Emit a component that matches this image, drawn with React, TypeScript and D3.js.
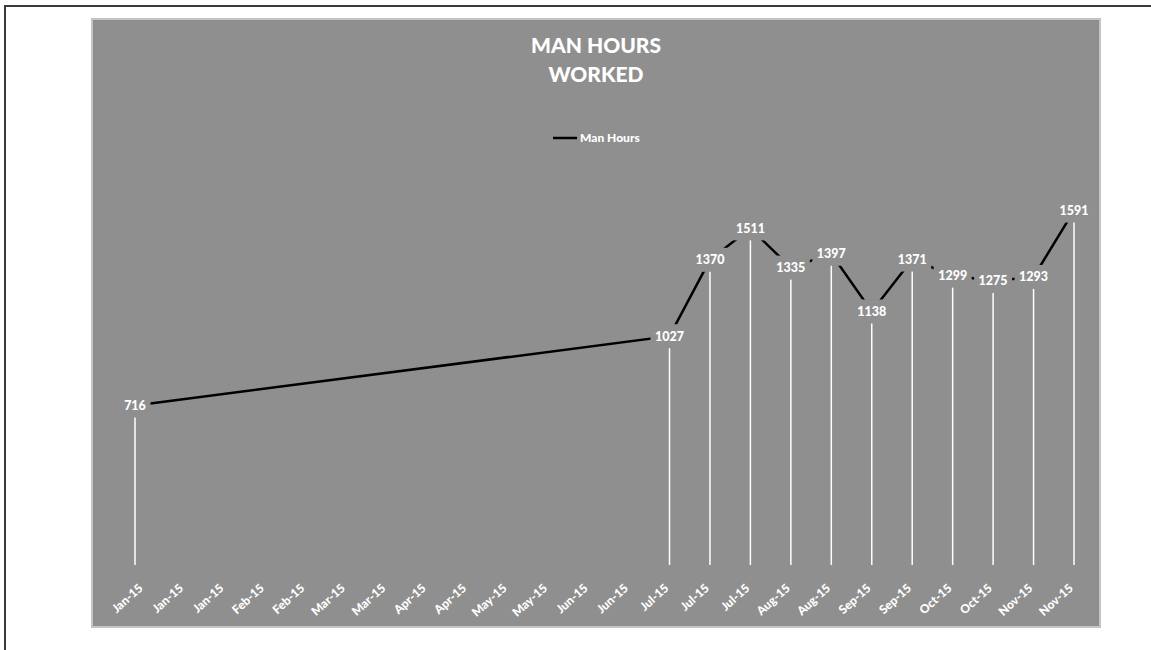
import React from "react";
import * as d3 from "d3";

const dates: string[] = [
  "2015-01-01", "2015-07-05", "2015-07-19", "2015-08-02", "2015-08-16", "2015-08-30",
  "2015-09-13", "2015-09-27", "2015-10-11", "2015-10-25", "2015-11-08", "2015-11-22",
];
const manHours: number[] = [716, 1027, 1370, 1511, 1335, 1397, 1138, 1371, 1299, 1275, 1293, 1591];
const axisStart = "2015-01-01";
const axisEnd = "2015-11-22";
const tickStepDays = 14;
const titleLines: string[] = ["MAN HOURS", "WORKED"];
const seriesName = "Man Hours";

const W = 1151;
const H = 650;
const FONT = "Lato, 'Open Sans', sans-serif";
const BG = "#8f8f8f";

export default function App() {
  const parse = d3.utcParse("%Y-%m-%d");
  const start = parse(axisStart)!;
  const end = parse(axisEnd)!;
  const x = d3.scaleUtc().domain([start, end]).range([135, 1074]);
  const y = d3.scaleLinear().domain([0, 1800]).range([565, 164]);
  const pts = dates.map((d, i) => ({ date: parse(d)!, v: manHours[i] }));
  const line = d3
    .line<{ date: Date; v: number }>()
    .x((d) => x(d.date))
    .y((d) => y(d.v));
  const ticks = d3.utcDay.range(start, d3.utcDay.offset(end, 1), 1).filter((_, i) => i % tickStepDays === 0);
  const fmt = d3.utcFormat("%b-%y");

  return (
    <svg
      width={W}
      height={H}
      style={{ position: "absolute", left: 0, top: 0, background: "#fff" }}
      fontFamily={FONT}
    >
      <rect x={5} y={6} width={W + 20} height={H + 20} fill="#fff" stroke="#3a3a3a" strokeWidth={2} />
      <rect x={92} y={19} width={1008} height={608} fill={BG} stroke="#c4c4c4" strokeWidth={2} />
      {titleLines.map((t, i) => (
        <text
          key={t}
          x={596}
          y={53 + i * 29}
          textAnchor="middle"
          fill="#fff"
          fontWeight={900}
          fontSize={21}
        >
          {t}
        </text>
      ))}
      <line x1={553} x2={577} y1={138} y2={138} stroke="#000" strokeWidth={2.5} />
      <text x={580} y={142} fill="#fff" fontWeight={900} fontSize={12}>
        {seriesName}
      </text>
      {pts.map((p, i) => (
        <line
          key={"drop" + i}
          x1={x(p.date)}
          x2={x(p.date)}
          y1={y(p.v)}
          y2={y(0)}
          stroke="#fff"
          strokeWidth={1.5}
        />
      ))}
      <path d={line(pts) || ""} fill="none" stroke="#000" strokeWidth={2.5} />
      {pts.map((p, i) => {
        const label = String(p.v);
        const w = label.length * 7 + 10;
        return (
          <g key={"lab" + i} transform={`translate(${x(p.date)},${y(p.v)})`}>
            <rect x={-w / 2} y={-12} width={w} height={24} fill={BG} />
            <text textAnchor="middle" dy="0.36em" fill="#fff" fontWeight={900} fontSize={12.5}>
              {label}
            </text>
          </g>
        );
      })}
      {ticks.map((t, i) => (
        <text
          key={"tick" + i}
          transform={`translate(${x(t) + 3},${583}) rotate(-42)`}
          textAnchor="end"
          dy="0.7em"
          fill="#fff"
          fontWeight={900}
          fontSize={12}
        >
          {fmt(t)}
        </text>
      ))}
    </svg>
  );
}
